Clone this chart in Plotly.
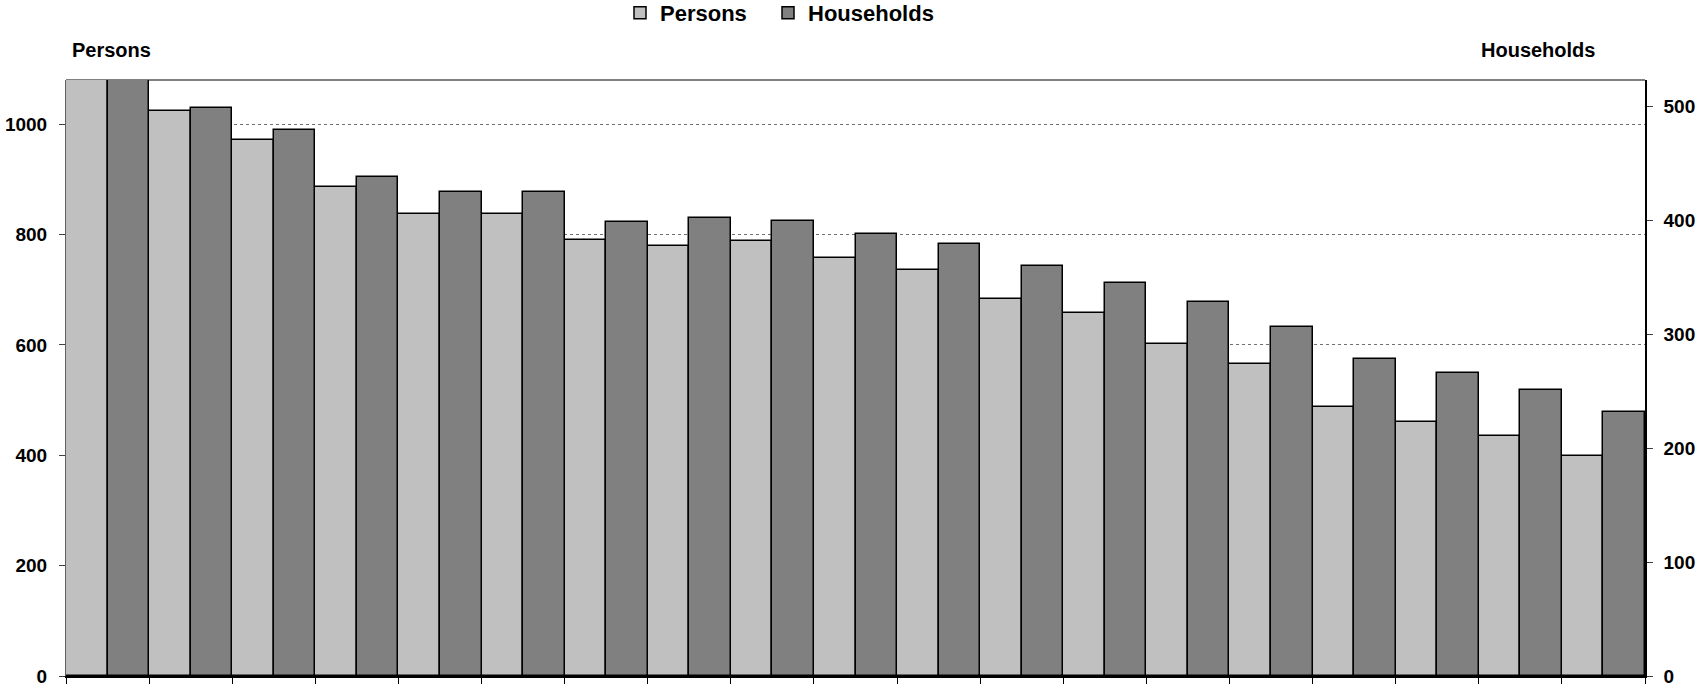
import plotly.graph_objects as go

categories = [f"Area {i}" for i in range(1, 20)]
persons = [1080, 1023, 972, 886, 838, 837, 790, 780, 789, 758, 735, 684, 657, 602, 565, 488, 460, 435, 399]
households = [523, 498, 479, 438, 425, 425, 398, 402, 399, 388, 379, 360, 345, 328, 306, 278, 266, 251, 232]
left_ticks = [0, 200, 400, 600, 800, 1000]
right_ticks = [0, 100, 200, 300, 400, 500]

FONT = "Arial, Liberation Sans, sans-serif"
PW = 1697 - 66 - 52
PH = 687 - 80 - 11

fig = go.Figure()
fig.add_trace(go.Bar(
    x=categories, y=persons, name="Persons", yaxis="y", offsetgroup="p", legend="legend",
    marker=dict(color="#C0C0C0", line=dict(color="black", width=1.5)),
))
fig.add_trace(go.Bar(
    x=categories, y=households, name="Households", yaxis="y2", offsetgroup="h", legend="legend2",
    marker=dict(color="#808080", line=dict(color="black", width=1.5)),
))

legend_common = dict(orientation="h", xanchor="left", y=1 + (80 - 13) / PH, yanchor="middle",
                     font=dict(size=22, family=FONT, weight="bold"), itemwidth=30,
                     bgcolor="rgba(0,0,0,0)")

fig.update_layout(
    width=1697, height=687,
    margin=dict(l=66, r=52, t=80, b=11, autoexpand=False),
    paper_bgcolor="white", plot_bgcolor="white",
    barmode="group", bargap=0, bargroupgap=0,
    font=dict(family=FONT, size=19, color="black", weight="bold"),
    showlegend=True,
    legend=dict(x=(620 - 66) / PW, **legend_common),
    legend2=dict(x=(768 - 66) / PW, **legend_common),
    xaxis=dict(type="category", showticklabels=False, tickson="boundaries",
               ticks="outside", ticklen=6, tickcolor="black", tickwidth=1,
               showline=True, linecolor="black", linewidth=2, showgrid=False,
               range=[-0.5, len(categories) - 0.5]),
    yaxis=dict(range=[0, 1080], tickvals=left_ticks, ticks="outside", ticklen=6,
               tickcolor="#404040", showline=True, linecolor="#606060", linewidth=1,
               showgrid=True, gridcolor="#707070", griddash="dot", gridwidth=1,
               zeroline=False, ticklabelstandoff=8, tickfont=dict(size=19, weight="bold")),
    yaxis2=dict(range=[0, 523], tickvals=right_ticks, overlaying="y", side="right",
                ticks="outside", ticklen=6, tickcolor="#404040",
                showline=True, linecolor="black", linewidth=1.5, ticklabelstandoff=7,
                showgrid=False, zeroline=False, tickfont=dict(size=19, weight="bold")),
    shapes=[dict(type="line", xref="paper", yref="paper", x0=0, x1=1, y0=1, y1=1,
                 line=dict(color="#808080", width=2), layer="below")],
    annotations=[
        dict(text="Persons", xref="paper", yref="paper", x=(70 - 66) / PW, y=1 + (80 - 50) / PH,
             xanchor="left", yanchor="middle", showarrow=False,
             font=dict(size=20, family=FONT, weight="bold")),
        dict(text="Households", xref="paper", yref="paper", x=(1597 - 66) / PW, y=1 + (80 - 50) / PH,
             xanchor="right", yanchor="middle", showarrow=False,
             font=dict(size=20, family=FONT, weight="bold")),
    ],
)

fig.write_html("out.html", config={"displayModeBar": False},
               post_script="document.body.style.margin='0';document.body.style.overflow='hidden';")
